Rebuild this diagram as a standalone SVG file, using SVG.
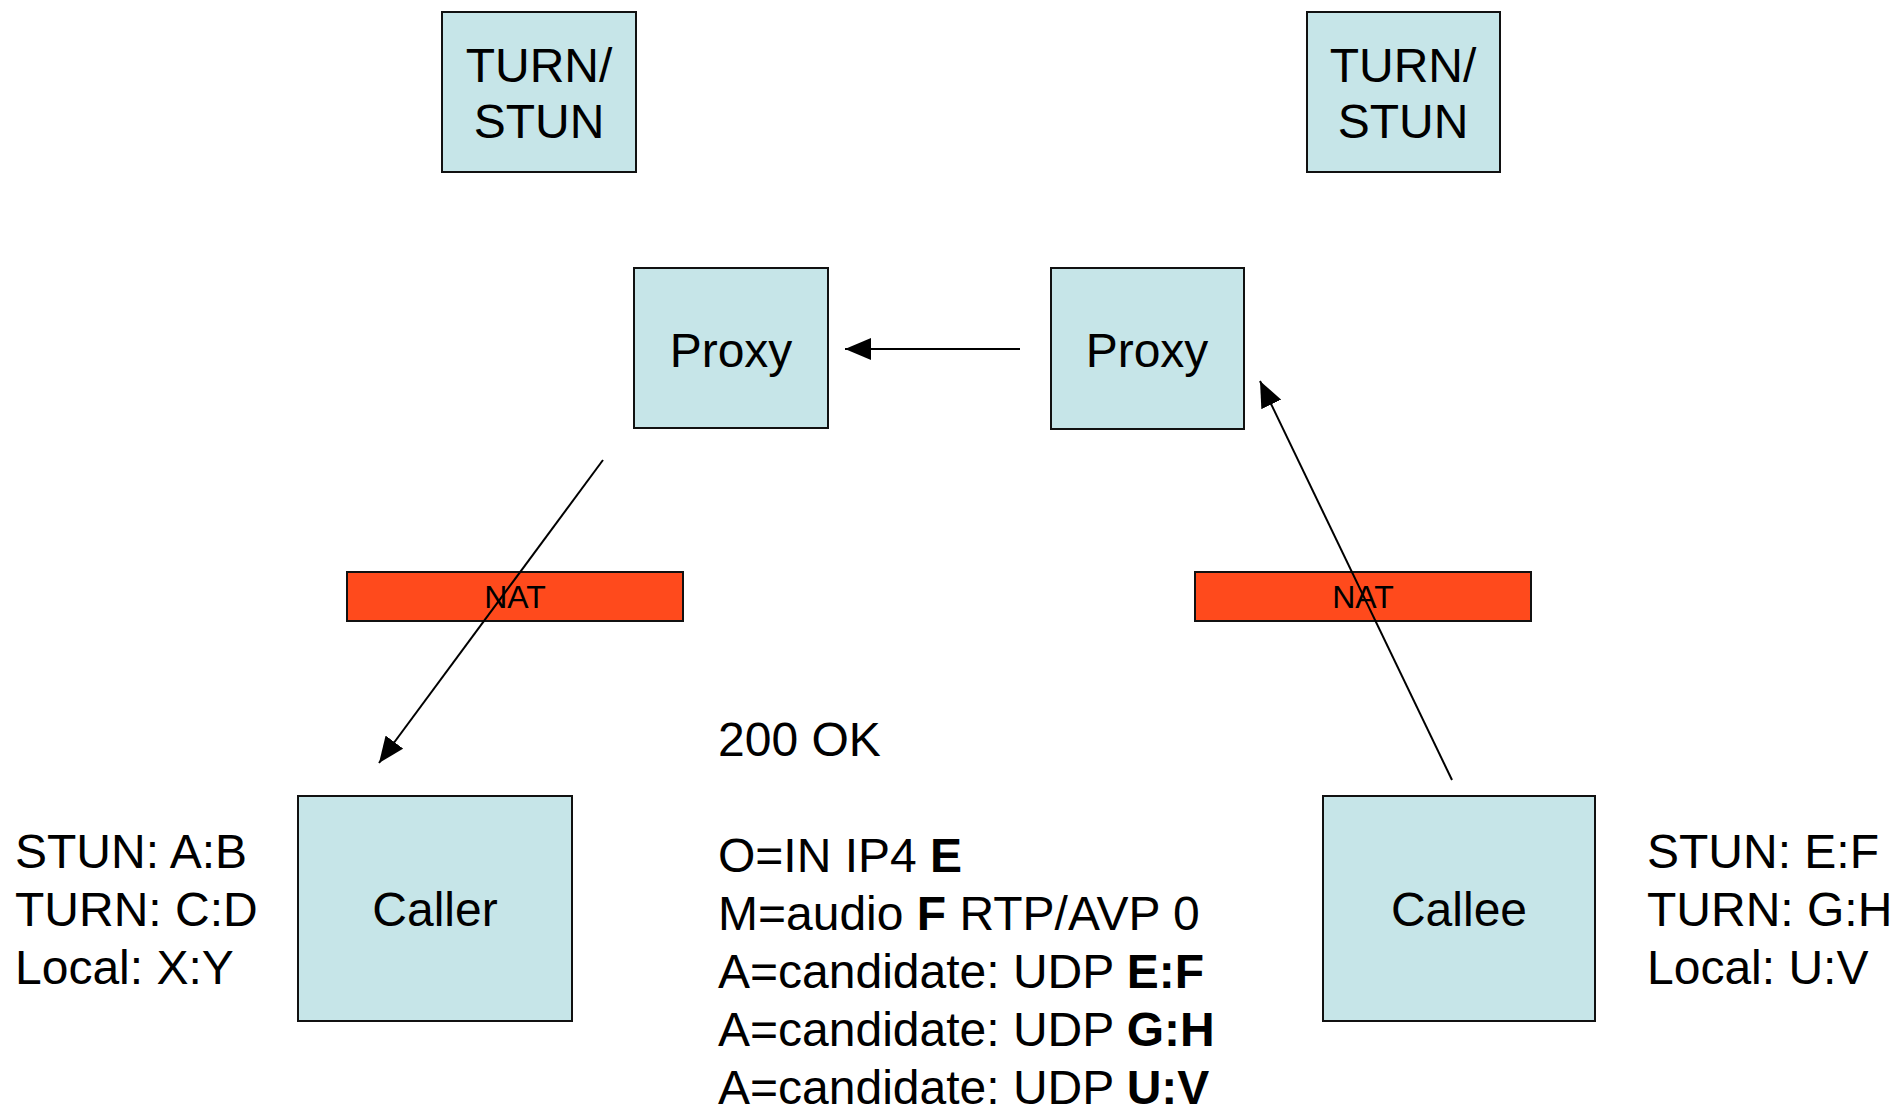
<svg xmlns="http://www.w3.org/2000/svg" width="1898" height="1111" viewBox="0 0 1898 1111">
<defs>
<style>
.box{fill:#C6E5E8;stroke:#111;stroke-width:2}
.nat{fill:#FF4A1C;stroke:#111;stroke-width:2}
text{font-family:"Liberation Sans",Arial,sans-serif;fill:#000}
.big{font-size:48px}
.mid{text-anchor:middle}
.small{font-size:32px}
.conn{stroke:#000;stroke-width:2;fill:none;marker-end:url(#ah)}
</style>
<marker id="ah" markerUnits="userSpaceOnUse" markerWidth="28" markerHeight="22" refX="26" refY="11" orient="auto">
<path d="M0,0 L26,11 L0,22 Z" fill="#000"/>
</marker>
</defs>
<rect width="1898" height="1111" fill="#fff"/>
<g id="turn-left">
<rect class="box" x="442" y="12" width="194" height="160"/>
<text class="big mid" x="539" y="82">TURN/</text>
<text class="big mid" x="539" y="138">STUN</text>
</g>
<g id="turn-right">
<rect class="box" x="1307" y="12" width="193" height="160"/>
<text class="big mid" x="1403" y="82">TURN/</text>
<text class="big mid" x="1403" y="138">STUN</text>
</g>
<g id="proxy-left">
<rect class="box" x="634" y="268" width="194" height="160"/>
<text class="big mid" x="731" y="367">Proxy</text>
</g>
<g id="proxy-right">
<rect class="box" x="1051" y="268" width="193" height="161"/>
<text class="big mid" x="1147" y="367">Proxy</text>
</g>
<g id="nat-left">
<rect class="nat" x="347" y="572" width="336" height="49"/>
<text class="small mid" x="515" y="608">NAT</text>
</g>
<g id="nat-right">
<rect class="nat" x="1195" y="572" width="336" height="49"/>
<text class="small mid" x="1363" y="608">NAT</text>
</g>
<g id="caller">
<rect class="box" x="298" y="796" width="274" height="225"/>
<text class="big mid" x="435" y="926">Caller</text>
</g>
<g id="callee">
<rect class="box" x="1323" y="796" width="272" height="225"/>
<text class="big mid" x="1459" y="926">Callee</text>
</g>
<g id="caller-info">
<text class="big" x="15" y="868">STUN: A:B</text>
<text class="big" x="15" y="926">TURN: C:D</text>
<text class="big" x="15" y="984">Local: X:Y</text>
</g>
<g id="callee-info">
<text class="big" x="1647" y="868">STUN: E:F</text>
<text class="big" x="1647" y="926">TURN: G:H</text>
<text class="big" x="1647" y="984">Local: U:V</text>
</g>
<g id="message">
<text class="big" x="718" y="756">200 OK</text>
<text class="big" x="718" y="872">O=IN IP4 <tspan font-weight="bold">E</tspan></text>
<text class="big" x="718" y="930">M=audio <tspan font-weight="bold">F</tspan> RTP/AVP 0</text>
<text class="big" x="718" y="988">A=candidate: UDP <tspan font-weight="bold">E:F</tspan></text>
<text class="big" x="718" y="1046">A=candidate: UDP <tspan font-weight="bold">G:H</tspan></text>
<text class="big" x="718" y="1104">A=candidate: UDP <tspan font-weight="bold">U:V</tspan></text>
</g>
<g id="connectors">
<line class="conn" x1="1452" y1="780" x2="1260" y2="381"/>
<line class="conn" x1="1020" y1="349" x2="845" y2="349"/>
<line class="conn" x1="603" y1="460" x2="379" y2="763"/>
</g>
</svg>
